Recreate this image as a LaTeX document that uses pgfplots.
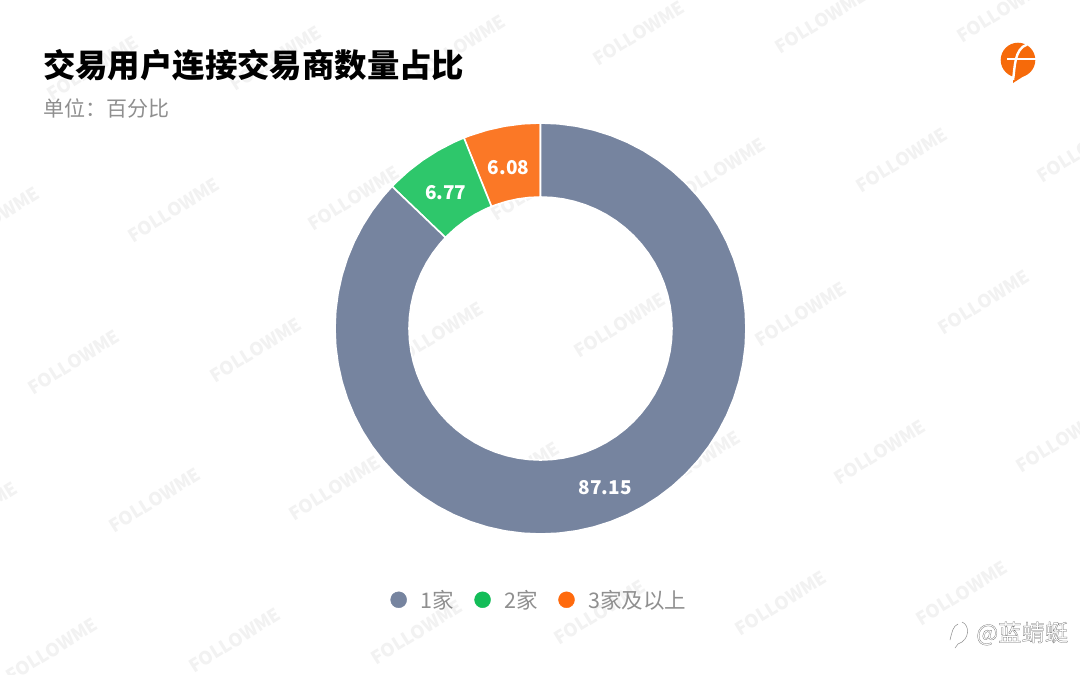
\documentclass[border=0pt]{standalone}
\usepackage{pgfplots}
\pgfplotsset{compat=1.18}
\usepgfplotslibrary{polar}
\usepackage{fontspec}
\setmainfont{Noto Sans CJK SC}
\definecolor{cgrey}{HTML}{76849F}
\definecolor{cgreen}{HTML}{2EC76B}
\definecolor{corange}{HTML}{FB7826}
\definecolor{lgrey}{HTML}{76849F}
\definecolor{lgreen}{HTML}{13BD58}
\definecolor{lorange}{HTML}{FF6A0D}
\definecolor{txtgrey}{HTML}{8F8F8F}
\definecolor{wm}{HTML}{F2F2F2}
\definecolor{logoc}{HTML}{F66A0A}
\begin{document}
\begin{tikzpicture}[x=1pt,y=-1pt]
\path[use as bounding box,fill=white] (0,0) rectangle (1080,675);
% watermarks
\foreach \px/\py in {
 93/68,276/58,460/47,639/33,821/21,1003/10,
 -6/219,174/210,354/198,537/188,720/170,902/160,1083/150,
 74/362,256/350,438/334,620/325,801/314,984/302,
 -28/514,155/500,335/488,514/474,695/463,880/452,1062/440,
 52/650,235/640,417/632,600/612,781/603,962/593}
 {\node[rotate=32,text=wm,font=\bfseries\fontsize{18}{18}\selectfont] at (\px,\py) {FOLLOWME};}
% title
\node[anchor=west,inner sep=0pt,font=\bfseries\fontsize{32.4}{32.4}\selectfont] at (43,65) {交易用户连接交易商数量占比};
\node[anchor=west,inner sep=0pt,text=txtgrey,font=\fontsize{21}{21}\selectfont] at (43,108) {单位：百分比};
% logo
\fill[logoc] (1018,60) circle (17.3);
\fill[logoc] (1013,70) -- (1013,83) -- (1027,74) -- cycle;
\draw[white,line width=1.5pt] (1007,59) -- (1036,59);
\draw[white,line width=2.4pt] (1013,80) .. controls (1015,68) and (1014,49) .. (1027,44.5);
% zhihu mark
\node[anchor=west,inner sep=0pt,text=black!60,font=\fontsize{23.3}{23.3}\selectfont] at (976,633.5) {\special{pdf:code 1 Tr 0.25 w}@蓝蜻蜓\special{pdf:code 0 Tr}};
\draw[black!45,line width=0.5pt] (962,622) .. controls (970,625) and (970,640) .. (958,644) -- (955,648);
\draw[black!45,line width=0.5pt] (950,640) .. controls (952,632) and (953,626) .. (958,624);
\begin{polaraxis}[
  at={(540.5pt,-328.5pt)},anchor=center,
  scale only axis,width=411pt,height=411pt,
  ymin=0,ymax=205.5,xmin=0,xmax=360,
  hide axis,clip=false,
  legend columns=3,
  legend style={at={(axis description cs:0.4977,-0.16)},anchor=center,draw=none,fill=none,
    font=\fontsize{21.5}{21.5}\selectfont,text=txtgrey,
    /tikz/every even column/.append style={column sep=18.5pt},
    /tikz/every odd column/.append style={column sep=12pt}},
]
% 6.08 %
\addplot[forget plot,fill=corange,draw=white,line width=1.6pt] coordinates {
 (90,205.5)(95,205.5)(100,205.5)(105,205.5)(110,205.5)(111.89,205.5)
 (111.89,131.5)(110,131.5)(105,131.5)(100,131.5)(95,131.5)(90,131.5)} -- cycle;
% 6.77 %
\addplot[forget plot,fill=cgreen,draw=white,line width=1.6pt] coordinates {
 (111.89,205.5)(115,205.5)(120,205.5)(125,205.5)(130,205.5)(135,205.5)(136.26,205.5)
 (136.26,131.5)(135,131.5)(130,131.5)(125,131.5)(120,131.5)(115,131.5)(111.89,131.5)} -- cycle;
% 87.15 %
\addplot[forget plot,fill=cgrey,draw=white,line width=1.6pt] coordinates {
 (136.26,205.5)(140,205.5)(145,205.5)(150,205.5)(155,205.5)(160,205.5)(165,205.5)(170,205.5)(175,205.5)
 (180,205.5)(185,205.5)(190,205.5)(195,205.5)(200,205.5)(205,205.5)(210,205.5)(215,205.5)(220,205.5)
 (225,205.5)(230,205.5)(235,205.5)(240,205.5)(245,205.5)(250,205.5)(255,205.5)(260,205.5)(265,205.5)
 (270,205.5)(275,205.5)(280,205.5)(285,205.5)(290,205.5)(295,205.5)(300,205.5)(305,205.5)(310,205.5)
 (315,205.5)(320,205.5)(325,205.5)(330,205.5)(335,205.5)(340,205.5)(345,205.5)(350,205.5)(355,205.5)
 (360,205.5)(365,205.5)(370,205.5)(375,205.5)(380,205.5)(385,205.5)(390,205.5)(395,205.5)(400,205.5)
 (405,205.5)(410,205.5)(415,205.5)(420,205.5)(425,205.5)(430,205.5)(435,205.5)(440,205.5)(445,205.5)(450,205.5)
 (450,131.5)(445,131.5)(440,131.5)(435,131.5)(430,131.5)(425,131.5)(420,131.5)(415,131.5)(410,131.5)(405,131.5)
 (400,131.5)(395,131.5)(390,131.5)(385,131.5)(380,131.5)(375,131.5)(370,131.5)(365,131.5)(360,131.5)
 (355,131.5)(350,131.5)(345,131.5)(340,131.5)(335,131.5)(330,131.5)(325,131.5)(320,131.5)(315,131.5)
 (310,131.5)(305,131.5)(300,131.5)(295,131.5)(290,131.5)(285,131.5)(280,131.5)(275,131.5)(270,131.5)
 (265,131.5)(260,131.5)(255,131.5)(250,131.5)(245,131.5)(240,131.5)(235,131.5)(230,131.5)(225,131.5)
 (220,131.5)(215,131.5)(210,131.5)(205,131.5)(200,131.5)(195,131.5)(190,131.5)(185,131.5)(180,131.5)
 (175,131.5)(170,131.5)(165,131.5)(160,131.5)(155,131.5)(150,131.5)(145,131.5)(140,131.5)(136.26,131.5)} -- cycle;
\addlegendimage{only marks,mark=*,mark size=8pt,color=lgrey}
\addlegendentry{1家}
\addlegendimage{only marks,mark=*,mark size=8pt,color=lgreen}
\addlegendentry{2家}
\addlegendimage{only marks,mark=*,mark size=8pt,color=lorange}
\addlegendentry{3家及以上}
\node[text=white,yshift=-5pt,font=\bfseries\fontsize{19}{19}\selectfont] at (axis cs:100.9,169) {6.08};
\node[text=white,yshift=-4.5pt,font=\bfseries\fontsize{19}{19}\selectfont] at (axis cs:124.1,169) {6.77};
\node[text=white,xshift=-1.5pt,yshift=-3.5pt,font=\bfseries\fontsize{19}{19}\selectfont] at (axis cs:293.1,169) {87.15};
\end{polaraxis}
\end{tikzpicture}
\end{document}
